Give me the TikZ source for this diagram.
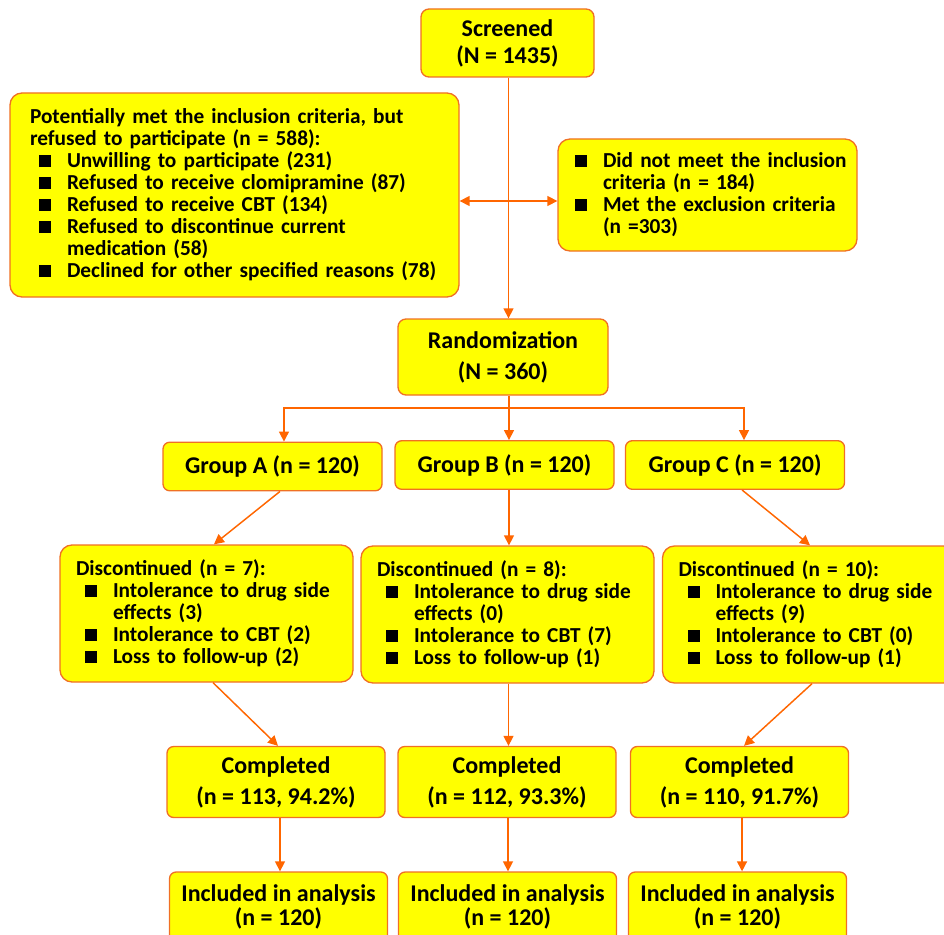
\documentclass[tikz,border=0pt]{standalone}
\usepackage{fontspec}
\setmainfont{Carlito}
\usetikzlibrary{arrows.meta,positioning}

\definecolor{boxfill}{RGB}{255,255,0}
\definecolor{boxline}{RGB}{240,112,36}
\definecolor{flowc}{RGB}{255,102,0}

% square bullet, item line and continuation line
\newcommand{\sq}{\rule[0.3pt]{9pt}{9pt}}
\newcommand{\bitem}[2][6.75pt]{\mbox{\makebox[\dimexpr#1+21pt\relax][l]{\hspace*{#1}\sq}#2}}
\newcommand{\bcont}[2][27.75pt]{\mbox{\hspace*{#1}#2}}

\begin{document}
\begin{tikzpicture}[
    x=0.75pt, y=-0.75pt,
    ftip/.tip={Triangle[length=7.5pt,width=7.5pt]},
    box/.style={draw=boxline, fill=boxfill, line width=1pt, rounded corners=5pt,
        inner sep=0pt, align=center, font=\bfseries\fontsize{18}{20.25}\selectfont},
    tall/.style={font=\bfseries\fontsize{18}{23.25}\selectfont},
    listbox/.style={box, rounded corners=9pt, align=left,
        font=\bfseries\fontsize{16}{16.5}\selectfont},
    dropbox/.style={listbox, minimum width=219.75pt, minimum height=102.75pt, text width=195.75pt},
    flow/.style={-ftip, draw=flowc, line width=1.1pt}
]
    \useasboundingbox (0,0) rectangle (944,934);

    % Screening
    \node[box, rounded corners=6pt, minimum width=129.75pt, minimum height=51pt] (scr) at (507.5,43)
        {Screened\\(N = 1435)};
    \node[listbox, minimum width=336.75pt, minimum height=153pt, text width=306.75pt] (refu) at (234.5,195)
        {\mbox{Potentially met the inclusion criteria, but}\\
         \mbox{refused to participate (n = 588):}\\
         \bitem{Unwilling to participate (231)}\\
         \bitem{Refused to receive clomipramine (87)}\\
         \bitem{Refused to receive CBT (134)}\\
         \bitem{Refused to discontinue current}\\
         \bcont{medication (58)}\\
         \bitem{Declined for other specified reasons (78)}};
    \node[listbox, minimum width=224.25pt, minimum height=84pt, text width=198.75pt] (excl) at (707.5,195)
        {\bitem[0pt]{Did not meet the inclusion}\\
         \bcont[21pt]{criteria (n = 184)}\\
         \bitem[0pt]{Met the exclusion criteria}\\
         \bcont[21pt]{(n =303)}};
    \node[box, tall, rounded corners=6pt, minimum width=157.5pt, minimum height=57pt] (rand) at (503,357)
        {Randomization\\(N = 360)};

    % Groups
    \foreach \g/\x/\y in {A/272.5/466.5, B/504.5/465, C/735/465}
        \node[box, minimum width=164.25pt, minimum height=36.4pt] (grp\g) at (\x,\y) {Group \g{} (n = 120)};

    % Discontinued
    \node[dropbox] (disA) at (206.5,613.5)
        {\mbox{Discontinued (n = 7):}\\
         \bitem{Intolerance to drug side}\\
         \bcont{effects (3)}\\
         \bitem{Intolerance to CBT (2)}\\
         \bitem{Loss to follow-up (2)}};
    \node[dropbox] (disB) at (507.5,614.5)
        {\mbox{Discontinued (n = 8):}\\
         \bitem{Intolerance to drug side}\\
         \bcont{effects (0)}\\
         \bitem{Intolerance to CBT (7)}\\
         \bitem{Loss to follow-up (1)}};
    \node[dropbox] (disC) at (809,614.5)
        {\mbox{Discontinued (n = 10):}\\
         \bitem{Intolerance to drug side}\\
         \bcont{effects (9)}\\
         \bitem{Intolerance to CBT (0)}\\
         \bitem{Loss to follow-up (1)}};

    % Completed and analysed
    \foreach \g/\x/\n/\p in {A/276/113/94.2, B/507/112/93.3, C/739.5/110/91.7}
        \node[box, tall, minimum width=163.5pt, minimum height=53.25pt] (cmp\g) at (\x,782)
            {Completed\\(n = \n, \p\%)};
    \foreach \g/\x in {A/278.5, B/507.5, C/737.5}
        \node[box, font=\bfseries\fontsize{18}{18}\selectfont, minimum width=163.5pt, minimum height=52.5pt]
            (inc\g) at (\x,907) {Included in analysis\\(n = 120)};

    % Arrows
    \coordinate (fork) at (509,408);
    \draw[flow] ([xshift=0.75pt]scr.south) -- ([xshift=0.75pt]scr.south |- rand.north);
    \draw[flow, ftip-ftip] ([yshift=-4.5pt]refu.east) -- ([yshift=-4.5pt]excl.west);
    \draw[flow, -] (rand.south -| fork) -- (fork);
    \draw[flow] (fork) -| ([xshift=8.6pt]grpA.north);
    \draw[flow] (fork) -- (fork |- grpB.north);
    \draw[flow] (fork) -| ([xshift=6.75pt]grpC.north);

    \draw[flow] ([xshift=5.6pt]grpA.south) -- ([xshift=5.6pt]disA.north);
    \draw[flow] (grpB.south -| fork) -- (disB.north -| fork);
    \draw[flow] ([xshift=5.25pt]grpC.south) -- ([xshift=0.75pt]disC.north);

    \draw[flow] ([xshift=4.9pt]disA.south) -- ([xshift=1.5pt]cmpA.north);
    \draw[flow] ([xshift=0.75pt]disB.south) -- ([xshift=0.75pt]disB.south |- cmpB.north);
    \draw[flow] ([xshift=2.25pt]disC.south) -- ([xshift=3.4pt]cmpC.north);

    \foreach \g/\s in {A/3pt, B/0.75pt, C/1.9pt}
        \draw[flow] ([xshift=\s]cmp\g.south) -- ([xshift=\s]cmp\g.south |- inc\g.north);
\end{tikzpicture}
\end{document}
